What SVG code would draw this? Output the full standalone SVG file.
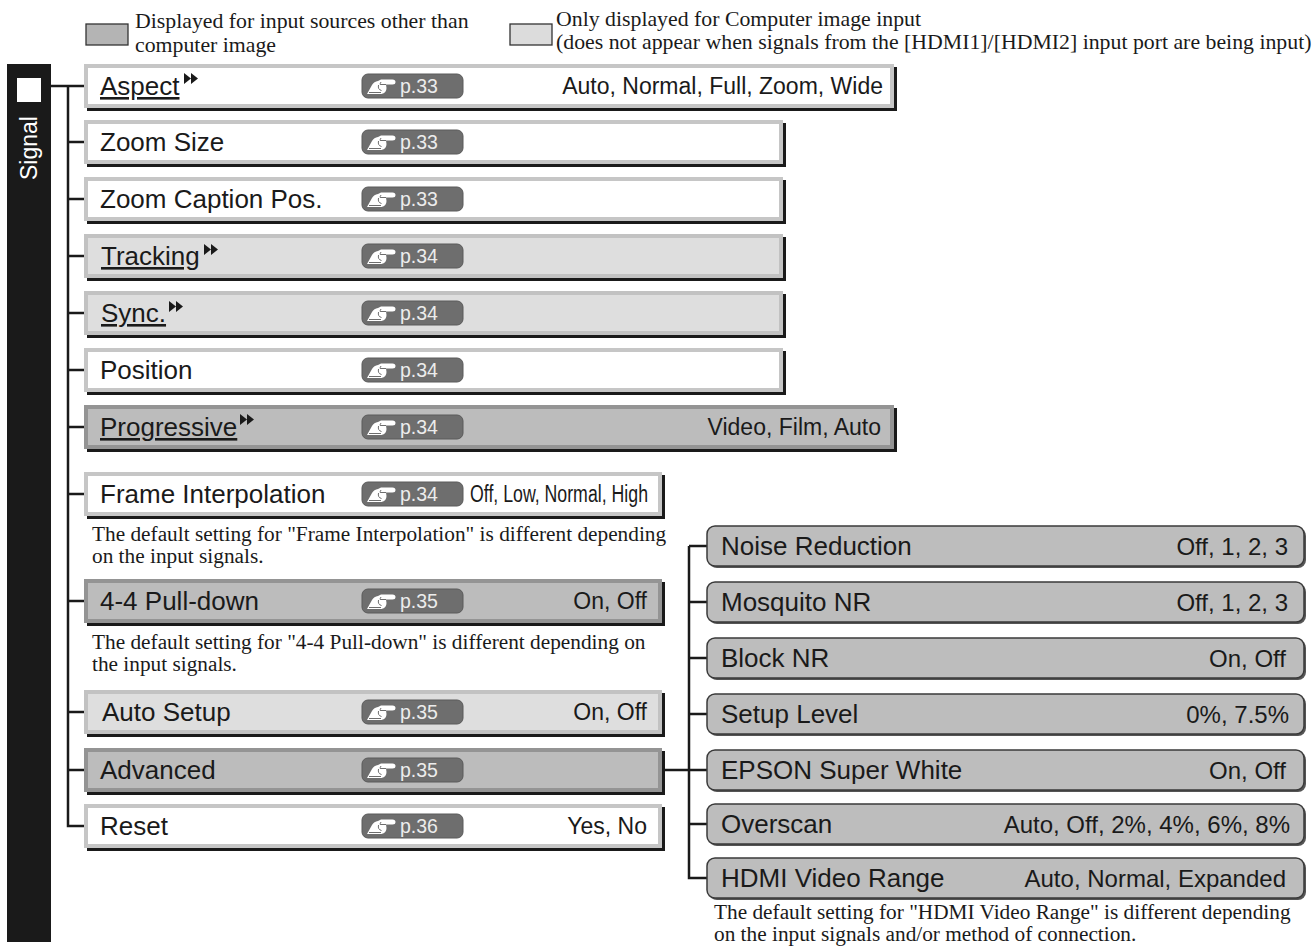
<svg xmlns="http://www.w3.org/2000/svg" xmlns:xlink="http://www.w3.org/1999/xlink" width="1316" height="946" viewBox="0 0 1316 946">
<style>
.lbl{font-family:"Liberation Sans",Arial,sans-serif;font-size:26px;fill:#1a1a1a}
.val{font-family:"Liberation Sans",Arial,sans-serif;font-size:23px;fill:#1a1a1a;text-anchor:end}
.sval{font-family:"Liberation Sans",Arial,sans-serif;font-size:24px;fill:#1a1a1a;text-anchor:end}
.pg{font-family:"Liberation Sans",Arial,sans-serif;font-size:19.5px;fill:#ececec}
.note{font-family:"Liberation Serif","Times New Roman",serif;font-size:21.3px;fill:#1a1a1a}
.leg{font-family:"Liberation Serif","Times New Roman",serif;font-size:21.8px;fill:#1a1a1a}
.ul{text-decoration:underline}
.conn{stroke:#1a1a1a;stroke-width:2.5;fill:none}
.sh{fill:#1a1a1a}
.bw{fill:#ffffff;stroke:#c6c6c6;stroke-width:4}
.bl{fill:#dedede;stroke:#c2c2c2;stroke-width:4}
.bm{fill:#bcbcbc;stroke:#949494;stroke-width:4}
.pill{fill:#6e6e6e;stroke:#5a5a5a;stroke-width:1}
.sub{fill:#bdbdbd;stroke:#3a3a3a;stroke-width:1.5}
.subsh{fill:#555}
</style>
<defs>
<g id="hand">
<path d="M0,15 L5,6 Q7,2.5 11,2 L14,0.5 L25.5,0.5 Q28.5,0.5 28.5,3 Q28.5,5.5 25.5,5.5 L19,5.5 L19.5,9 Q19.5,14 14.5,15 Z" fill="#ffffff"/>
<path d="M11.5,6 Q10.5,10.5 14.5,11.5 M13.5,5.5 L19,5.5 M14,3 Q12.5,5 13.5,6 M2,13.5 L14,13.5" stroke="#6e6e6e" stroke-width="1" fill="none"/>
</g>
<path id="dbl" d="M0,0 L7,5.5 L0,11 Z M7,0 L14,5.5 L7,11 Z" fill="#1a1a1a"/>
</defs>

<g id="legend">
<rect x="86" y="24" width="42" height="21" fill="#b4b4b4" stroke="#333" stroke-width="1.3"/>
<text class="leg" x="135" y="28">Displayed for input sources other than</text>
<text class="leg" x="135" y="52">computer image</text>
<rect x="510" y="24" width="42" height="21" fill="#dcdcdc" stroke="#333" stroke-width="1.3"/>
<text class="leg" x="556" y="26">Only displayed for Computer image input</text>
<text class="leg" x="556" y="49">(does not appear when signals from the [HDMI1]/[HDMI2] input port are being input)</text>
</g>

<g id="signal">
<rect x="7" y="64" width="44" height="878" fill="#1a1a1a"/>
<rect x="17" y="78" width="24" height="24" fill="#ffffff"/>
<text class="lbl" x="0" y="0" transform="translate(37,148) rotate(-90)" text-anchor="middle" style="fill:#fff;font-size:23px">Signal</text>
</g>

<g id="connectors">
<path class="conn" d="M51,86 H84"/>
<path class="conn" d="M68,86 V826 H84"/>
<path class="conn" d="M68,142 H84 M68,199 H84 M68,256 H84 M68,313 H84 M68,370 H84 M68,427 H84 M68,494 H84 M68,601 H84 M68,712 H84 M68,770 H84"/>
<path class="conn" d="M664,770 H689"/>
<path class="conn" d="M689,546 V878 H707"/>
<path class="conn" d="M689,546 H707 M689,602 H707 M689,658 H707 M689,714 H707 M689,770 H707 M689,824 H707"/>
</g>

<g id="aspect">
<rect class="sh" x="87" y="67" width="810" height="44"/>
<rect class="bw" x="86" y="66" width="806" height="40"/>
<text class="lbl ul" x="100" y="95">Aspect</text>
<use xlink:href="#dbl" x="184" y="73"/>
<rect class="pill" x="362" y="74" width="101" height="24" rx="6"/>
<use xlink:href="#hand" x="367" y="79"/>
<text class="pg" x="400" y="93">p.33</text>
<text class="val" x="883" y="94">Auto, Normal, Full, Zoom, Wide</text>
</g>

<g id="zoomsize">
<rect class="sh" x="87" y="123" width="699" height="44"/>
<rect class="bw" x="86" y="122" width="695" height="40"/>
<text class="lbl" x="100" y="151">Zoom Size</text>
<rect class="pill" x="362" y="130" width="101" height="24" rx="6"/>
<use xlink:href="#hand" x="367" y="135"/>
<text class="pg" x="400" y="149">p.33</text>
</g>

<g id="zoomcaption">
<rect class="sh" x="87" y="180" width="699" height="44"/>
<rect class="bw" x="86" y="179" width="695" height="40"/>
<text class="lbl" x="100" y="208">Zoom Caption Pos.</text>
<rect class="pill" x="362" y="187" width="101" height="24" rx="6"/>
<use xlink:href="#hand" x="367" y="192"/>
<text class="pg" x="400" y="206">p.33</text>
</g>

<g id="tracking">
<rect class="sh" x="87" y="237" width="699" height="44"/>
<rect class="bl" x="86" y="236" width="695" height="40"/>
<text class="lbl ul" x="101" y="265">Tracking</text>
<use xlink:href="#dbl" x="204" y="244"/>
<rect class="pill" x="362" y="244" width="101" height="24" rx="6"/>
<use xlink:href="#hand" x="367" y="249"/>
<text class="pg" x="400" y="263">p.34</text>
</g>

<g id="sync">
<rect class="sh" x="87" y="294" width="699" height="44"/>
<rect class="bl" x="86" y="293" width="695" height="40"/>
<text class="lbl ul" x="101" y="322">Sync.</text>
<use xlink:href="#dbl" x="169" y="301"/>
<rect class="pill" x="362" y="301" width="101" height="24" rx="6"/>
<use xlink:href="#hand" x="367" y="306"/>
<text class="pg" x="400" y="320">p.34</text>
</g>

<g id="position">
<rect class="sh" x="87" y="351" width="699" height="44"/>
<rect class="bw" x="86" y="350" width="695" height="40"/>
<text class="lbl" x="100" y="379">Position</text>
<rect class="pill" x="362" y="358" width="101" height="24" rx="6"/>
<use xlink:href="#hand" x="367" y="363"/>
<text class="pg" x="400" y="377">p.34</text>
</g>

<g id="progressive">
<rect class="sh" x="87" y="408" width="810" height="44"/>
<rect class="bm" x="86" y="407" width="806" height="40"/>
<text class="lbl ul" x="100" y="436">Progressive</text>
<use xlink:href="#dbl" x="240" y="414"/>
<rect class="pill" x="362" y="415" width="101" height="24" rx="6"/>
<use xlink:href="#hand" x="367" y="420"/>
<text class="pg" x="400" y="434">p.34</text>
<text class="val" x="881" y="435">Video, Film, Auto</text>
</g>

<g id="frameinterp">
<rect class="sh" x="87" y="475" width="578" height="44"/>
<rect class="bw" x="86" y="474" width="574" height="40"/>
<text class="lbl" x="100" y="503">Frame Interpolation</text>
<rect class="pill" x="362" y="482" width="101" height="24" rx="6"/>
<use xlink:href="#hand" x="367" y="487"/>
<text class="pg" x="400" y="501">p.34</text>
<text class="val" x="648" y="502" textLength="178" lengthAdjust="spacingAndGlyphs">Off, Low, Normal, High</text>
<text class="note" x="92" y="541">The default setting for "Frame Interpolation" is different depending</text>
<text class="note" x="92" y="563">on the input signals.</text>
</g>

<g id="pulldown">
<rect class="sh" x="87" y="582" width="578" height="44"/>
<rect class="bm" x="86" y="581" width="574" height="40"/>
<text class="lbl" x="100" y="610">4-4 Pull-down</text>
<rect class="pill" x="362" y="589" width="101" height="24" rx="6"/>
<use xlink:href="#hand" x="367" y="594"/>
<text class="pg" x="400" y="608">p.35</text>
<text class="val" x="647" y="609">On, Off</text>
<text class="note" x="92" y="649">The default setting for "4-4 Pull-down" is different depending on</text>
<text class="note" x="92" y="671">the input signals.</text>
</g>

<g id="autosetup">
<rect class="sh" x="87" y="693" width="578" height="44"/>
<rect class="bl" x="86" y="692" width="574" height="40"/>
<text class="lbl" x="102" y="721">Auto Setup</text>
<rect class="pill" x="362" y="700" width="101" height="24" rx="6"/>
<use xlink:href="#hand" x="367" y="705"/>
<text class="pg" x="400" y="719">p.35</text>
<text class="val" x="647" y="720">On, Off</text>
</g>

<g id="advanced">
<rect class="sh" x="87" y="751" width="578" height="44"/>
<rect class="bm" x="86" y="750" width="574" height="40"/>
<text class="lbl" x="100" y="779">Advanced</text>
<rect class="pill" x="362" y="758" width="101" height="24" rx="6"/>
<use xlink:href="#hand" x="367" y="763"/>
<text class="pg" x="400" y="777">p.35</text>
</g>

<g id="reset">
<rect class="sh" x="87" y="807" width="578" height="44"/>
<rect class="bw" x="86" y="806" width="574" height="40"/>
<text class="lbl" x="100" y="835">Reset</text>
<rect class="pill" x="362" y="814" width="101" height="24" rx="6"/>
<use xlink:href="#hand" x="367" y="819"/>
<text class="pg" x="400" y="833">p.36</text>
<text class="val" x="647" y="834">Yes, No</text>
</g>

<g id="noisereduction">
<rect class="subsh" x="709" y="528" width="597" height="40" rx="8"/>
<rect class="sub" x="707" y="526" width="597" height="40" rx="8"/>
<text class="lbl" x="721" y="555">Noise Reduction</text>
<text class="sval" x="1288" y="555">Off, 1, 2, 3</text>
</g>
<g id="mosquitonr">
<rect class="subsh" x="709" y="584" width="597" height="40" rx="8"/>
<rect class="sub" x="707" y="582" width="597" height="40" rx="8"/>
<text class="lbl" x="721" y="611">Mosquito NR</text>
<text class="sval" x="1288" y="611">Off, 1, 2, 3</text>
</g>
<g id="blocknr">
<rect class="subsh" x="709" y="640" width="597" height="40" rx="8"/>
<rect class="sub" x="707" y="638" width="597" height="40" rx="8"/>
<text class="lbl" x="721" y="667">Block NR</text>
<text class="sval" x="1286" y="667">On, Off</text>
</g>
<g id="setuplevel">
<rect class="subsh" x="709" y="696" width="597" height="40" rx="8"/>
<rect class="sub" x="707" y="694" width="597" height="40" rx="8"/>
<text class="lbl" x="721" y="723">Setup Level</text>
<text class="sval" x="1289" y="723">0%, 7.5%</text>
</g>
<g id="superwhite">
<rect class="subsh" x="709" y="752" width="597" height="40" rx="8"/>
<rect class="sub" x="707" y="750" width="597" height="40" rx="8"/>
<text class="lbl" x="721" y="779">EPSON Super White</text>
<text class="sval" x="1286" y="779">On, Off</text>
</g>
<g id="overscan">
<rect class="subsh" x="709" y="806" width="597" height="40" rx="8"/>
<rect class="sub" x="707" y="804" width="597" height="40" rx="8"/>
<text class="lbl" x="721" y="833">Overscan</text>
<text class="sval" x="1290" y="833">Auto, Off, 2%, 4%, 6%, 8%</text>
</g>
<g id="hdmirange">
<rect class="subsh" x="709" y="860" width="597" height="40" rx="8"/>
<rect class="sub" x="707" y="858" width="597" height="40" rx="8"/>
<text class="lbl" x="721" y="887">HDMI Video Range</text>
<text class="sval" x="1286" y="887">Auto, Normal, Expanded</text>
<text class="note" x="714" y="919">The default setting for "HDMI Video Range" is different depending</text>
<text class="note" x="714" y="941">on the input signals and/or method of connection.</text>
</g>
</svg>
